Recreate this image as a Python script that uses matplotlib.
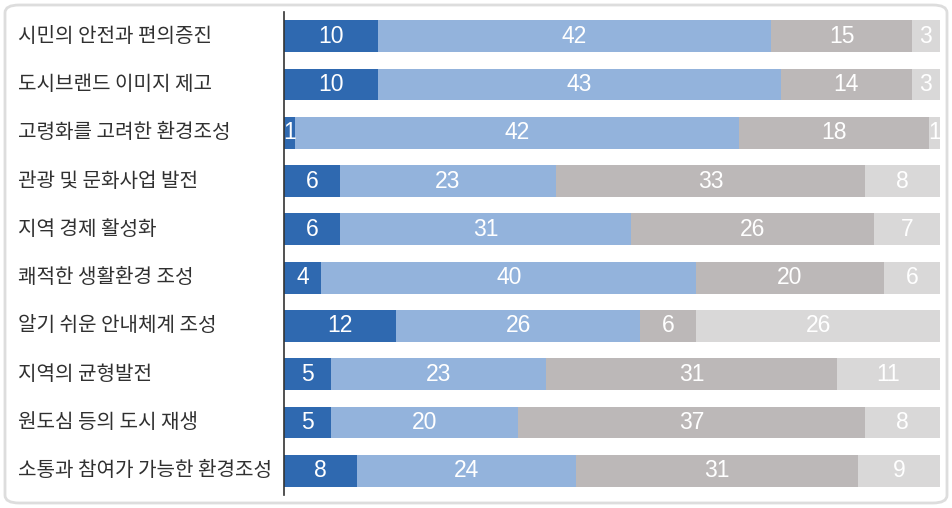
import matplotlib.pyplot as plt
import matplotlib.transforms as mtrans
from matplotlib.patches import FancyBboxPatch
import numpy as np

plt.rcParams['font.family'] = ['Noto Sans CJK KR', 'DejaVu Sans']

categories = ['시민의 안전과 편의증진', '도시브랜드 이미지 제고', '고령화를 고려한 환경조성',
              '관광 및 문화사업 발전', '지역 경제 활성화', '쾌적한 생활환경 조성',
              '알기 쉬운 안내체계 조성', '지역의 균형발전', '원도심 등의 도시 재생',
              '소통과 참여가 가능한 환경조성']
s1 = [10, 10, 1, 6, 6, 4, 12, 5, 5, 8]
s2 = [42, 43, 42, 23, 31, 40, 26, 23, 20, 24]
s3 = [15, 14, 18, 33, 26, 20, 6, 31, 37, 31]
s4 = [3, 3, 1, 8, 7, 6, 26, 11, 8, 9]

colors = ['#2f69b0', '#93b3dc', '#bcb8b8', '#d9d8d8']

fig = plt.figure(figsize=(9.52, 5.08), dpi=100)
fig.patch.set_facecolor('white')
ax = fig.add_axes([284 / 952, 13 / 508, 656 / 952, 483 / 508])

data = np.array([s1, s2, s3, s4], dtype=float)
shares = data / data.sum(axis=0) * 100
y = np.arange(len(categories))
left = np.zeros(len(categories))
for k in range(4):
    ax.barh(y, shares[k], left=left, height=0.66, color=colors[k], linewidth=0)
    for i in range(len(categories)):
        ax.text(left[i] + shares[k][i] / 2, y[i], str(int(data[k][i])),
                ha='center', va='center', color='white', fontsize=16.5,
                family=['Liberation Sans Narrow', 'Liberation Sans', 'DejaVu Sans'])
    left += shares[k]

ax.set_xlim(0, 100)
ax.set_ylim(len(categories) - 0.5, -0.5)
ax.set_yticks([])
ax.set_xticks([])
for sp in ['top', 'right', 'bottom']:
    ax.spines[sp].set_visible(False)
ax.spines['left'].set_color('#333333')
ax.spines['left'].set_linewidth(1.2)

tr = mtrans.blended_transform_factory(fig.transFigure, ax.transData)
for i, c in enumerate(categories):
    fig.text(18 / 952, y[i], c, transform=tr, ha='left', va='center',
             fontsize=14.5, color='#303030', fontweight='medium')

box = FancyBboxPatch((5 / 952, 5 / 508), 942 / 952, 498 / 508,
                     boxstyle='round,pad=0,rounding_size=0.015',
                     transform=fig.transFigure, facecolor='none',
                     edgecolor='#dddddd', linewidth=2)
fig.patches.append(box)

fig.savefig('out.png', dpi=100)
